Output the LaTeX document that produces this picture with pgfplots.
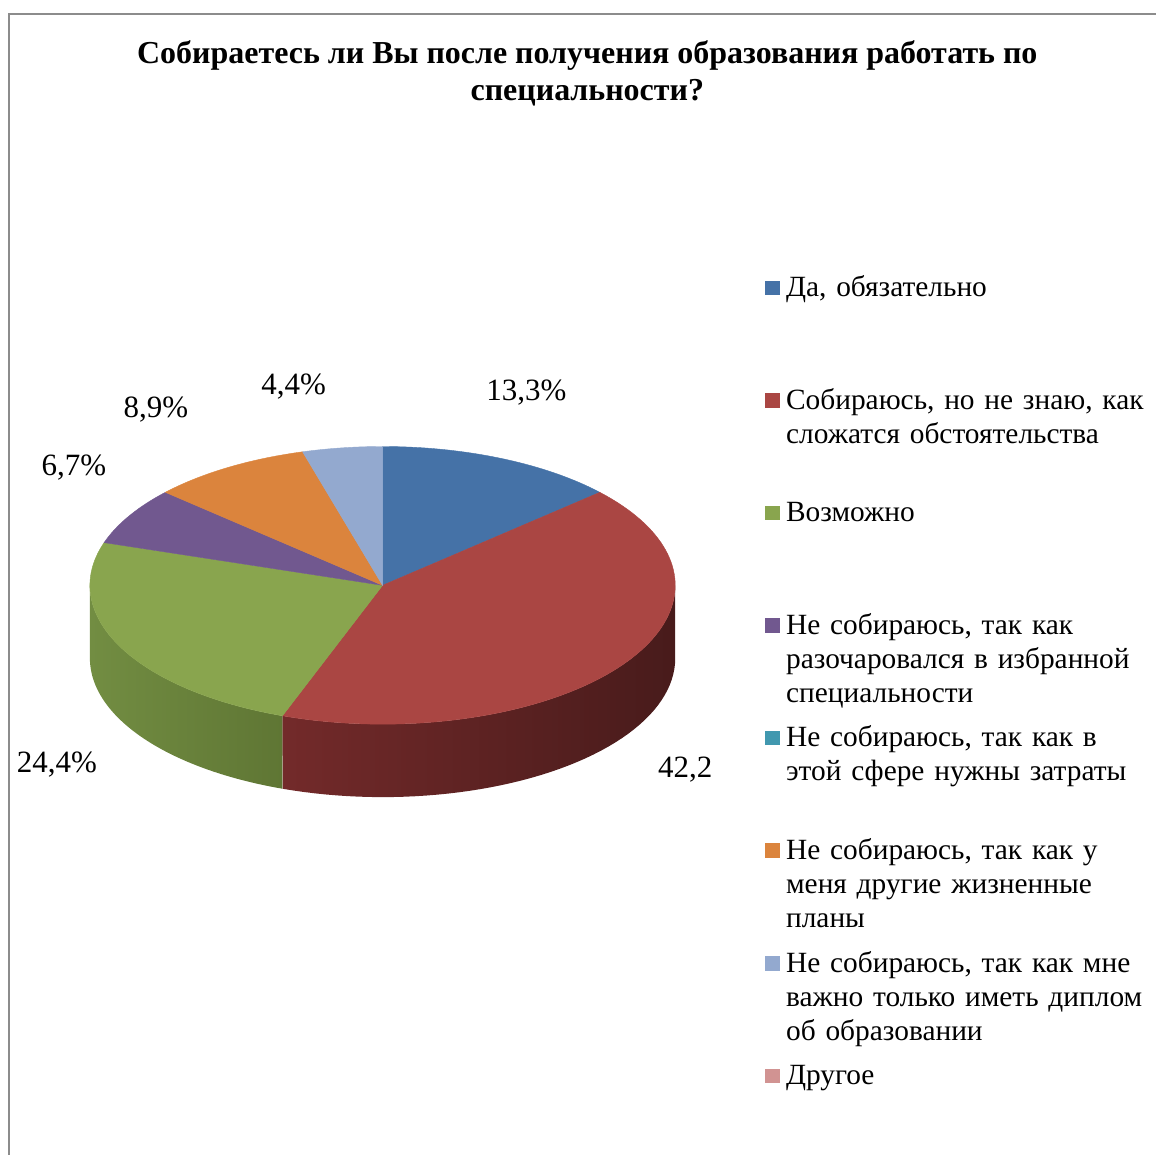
\documentclass[border=0pt]{standalone}
\usepackage{fontspec}
\setmainfont{Liberation Serif}
\usepackage{pgfplots}
\pgfplotsset{compat=1.18}
\definecolor{cBlue}{HTML}{4572A7}
\definecolor{cRed}{HTML}{AA4643}
\definecolor{cGreen}{HTML}{89A54E}
\definecolor{cPurple}{HTML}{71588F}
\definecolor{cTeal}{HTML}{4198AF}
\definecolor{cOrange}{HTML}{DB843D}
\definecolor{cLBlue}{HTML}{93A9CF}
\definecolor{cPink}{HTML}{D19392}
\definecolor{frame}{HTML}{8C8C8C}
\definecolor{rsL}{HTML}{732A2A}
\definecolor{rsM}{HTML}{451A1A}
\definecolor{rsR}{HTML}{481B1B}
\definecolor{gsL}{HTML}{728D42}
\definecolor{gsM}{HTML}{78954A}
\definecolor{gsR}{HTML}{5F7634}
% geometry of the pie (pixel units)
\def\cx{383}\def\cy{586}\def\ra{293}\def\rb{139}\def\dep{73}
% data (percent)
\def\vA{13.3}\def\vB{42.2}\def\vC{24.4}\def\vD{6.7}\def\vE{0}\def\vF{8.9}\def\vG{4.4}\def\vH{0}
\pgfmathsetmacro\tot{\vA+\vB+\vC+\vD+\vE+\vF+\vG+\vH}
\pgfmathsetmacro\aA{0}
\pgfmathsetmacro\aB{(\vA)/\tot*360}
\pgfmathsetmacro\aC{(\vA+\vB)/\tot*360}
\pgfmathsetmacro\aD{(\vA+\vB+\vC)/\tot*360}
\pgfmathsetmacro\aE{(\vA+\vB+\vC+\vD)/\tot*360}
\pgfmathsetmacro\aF{(\vA+\vB+\vC+\vD+\vE)/\tot*360}
\pgfmathsetmacro\aG{(\vA+\vB+\vC+\vD+\vE+\vF)/\tot*360}
\pgfmathsetmacro\aH{(\vA+\vB+\vC+\vD+\vE+\vF+\vG)/\tot*360}
\newcommand\topslice[3]{%
  \addplot[fill=#3,draw=#3,line width=0.2pt,domain=#1:#2,samples=90,variable=\t,forget plot]
    ({\cx+\ra*sin(\t)},{\cy-\rb*cos(\t)}) -- (axis cs:\cx,\cy) -- cycle;}
\newcommand\sideslice[3]{%
  \addplot[draw=none,#3,samples at={0,2,...,100,100.01,102,104,...,200},variable=\t,forget plot]
    ({\cx+\ra*sin(((\t<=100) ? (#1+(#2-#1)*\t/100) : (#2-(#2-#1)*(\t-100)/100)))},
     {\cy-\rb*cos(((\t<=100) ? (#1+(#2-#1)*\t/100) : (#2-(#2-#1)*(\t-100)/100)))+(\t>100)*\dep}) -- cycle;}
\begin{document}
\begin{tikzpicture}
\begin{axis}[
  scale only axis, width=578.5pt, height=578pt,
  xmin=0, xmax=1157, ymin=0, ymax=1156, y dir=reverse,
  hide axis, clip=false,
  legend image code/.code={\fill[#1,draw=none] (0pt,0.8pt) rectangle (7.3pt,8.1pt);},
  legend cell align=left,
  legend style={at={(axis cs:766,273)}, anchor=north west, draw=none, fill=none,
    inner sep=0pt, outer sep=0pt, row sep=39.35pt, column sep=0pt,
    font=\fontsize{14.7}{17}\selectfont,
    cells={anchor=base west},
    nodes={inner sep=0pt, text width=180pt, align=left, text height=12pt, text depth=5pt},
    /tikz/every odd column/.append style={column sep=3.2pt}},
]
\path (axis cs:0,0) rectangle (axis cs:1157,1156);
\draw[frame, line width=1.3pt] (axis cs:9,1156) -- (axis cs:9,14) -- (axis cs:1157,14);
% sides
\sideslice{90}{\aC}{left color=rsL, middle color=rsM, right color=rsR}
\sideslice{\aC}{270}{left color=gsL, middle color=gsM, right color=gsR}
% top faces
\topslice{\aA}{\aB}{cBlue}
\topslice{\aB}{\aC}{cRed}
\topslice{\aC}{\aD}{cGreen}
\topslice{\aD}{\aE}{cPurple}
\topslice{\aF}{\aG}{cOrange}
\topslice{\aG}{\aH}{cLBlue}
% labels
\begin{scope}[font=\fontsize{15.5}{17}\selectfont]
\node at (axis cs:527,393) {13,3\%};
\node at (axis cs:686,770) {42,2};
\node at (axis cs:57,765) {24,4\%};
\node at (axis cs:74,468) {6,7\%};
\node at (axis cs:156,410) {8,9\%};
\node at (axis cs:294,387) {4,4\%};
\end{scope}
\node[align=center, font=\bfseries\fontsize{16}{18.5}\selectfont] at (axis cs:588,73.5)
  {Собираетесь ли Вы после получения образования работать по\\специальности?};
% legend
\addlegendimage{fill=cBlue}\addlegendentry{Да, обязательно}
\addlegendimage{fill=cRed}\addlegendentry{Собираюсь, но не знаю, как\\сложатся обстоятельства}
\addlegendimage{fill=cGreen}\addlegendentry{Возможно}
\addlegendimage{fill=cPurple}\addlegendentry{Не собираюсь, так как\\разочаровался в избранной\\специальности}
\addlegendimage{fill=cTeal}\addlegendentry{Не собираюсь, так как в\\этой сфере нужны затраты}
\addlegendimage{fill=cOrange}\addlegendentry{Не собираюсь, так как у\\меня другие жизненные\\планы}
\addlegendimage{fill=cLBlue}\addlegendentry{Не собираюсь, так как мне\\важно только иметь диплом\\об образовании}
\addlegendimage{fill=cPink}\addlegendentry{Другое}
\end{axis}
\end{tikzpicture}
\end{document}
